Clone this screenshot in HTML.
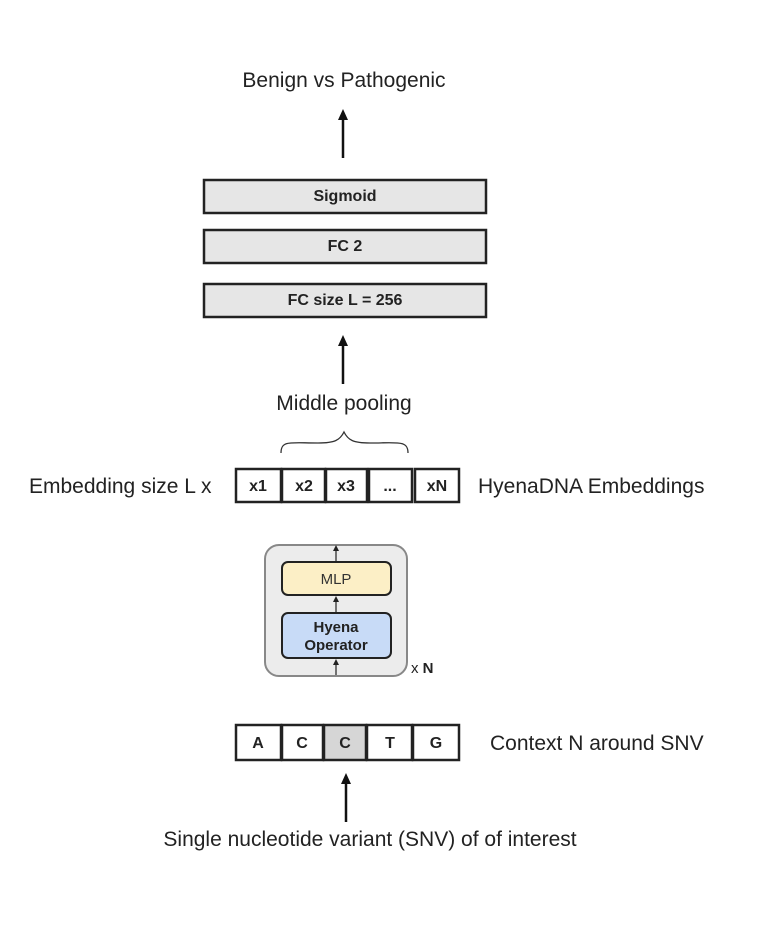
<!DOCTYPE html>
<html><head><style>body{margin:0;background:#fff}</style></head><body>
<svg width="763" height="920" xmlns="http://www.w3.org/2000/svg" font-family="Liberation Sans, Arial, sans-serif">
<defs><marker id="a" markerUnits="userSpaceOnUse" markerWidth="11" markerHeight="10" refX="2" refY="5" orient="auto"><path d="M0,0 L11,5 L0,10 z" fill="#111"/></marker>
<marker id="s" markerUnits="userSpaceOnUse" markerWidth="6" markerHeight="6" refX="1" refY="3" orient="auto"><path d="M0,0 L6,3 L0,6 z" fill="#222"/></marker></defs>
<text x="344" y="87" font-size="21" text-anchor="middle" fill="#222">Benign vs Pathogenic</text>
<line x1="343" y1="158" x2="343" y2="118" stroke="#111" stroke-width="2.5" marker-end="url(#a)"/>
<g stroke="#222" stroke-width="2.5" fill="#e6e6e6">
<rect x="204" y="180" width="282" height="33"/>
<rect x="204" y="230" width="282" height="33"/>
<rect x="204" y="284" width="282" height="33"/>
</g>
<g font-size="16" font-weight="bold" text-anchor="middle" fill="#222">
<text x="345" y="201">Sigmoid</text><text x="345" y="251">FC 2</text><text x="345" y="305">FC size L = 256</text></g>
<line x1="343" y1="384" x2="343" y2="344" stroke="#111" stroke-width="2.5" marker-end="url(#a)"/>
<text x="344" y="410" font-size="21" text-anchor="middle" fill="#222">Middle pooling</text>
<path d="M281,453 C281,440 290,443 318,443 C335,443 340,440 344,432 C348,440 353,443 370,443 C398,443 408,440 408,453" fill="none" stroke="#333" stroke-width="1.3"/>
<text x="29" y="493" font-size="21" fill="#222">Embedding size L  x</text>
<g stroke="#222" stroke-width="2.5" fill="#fff">
<rect x="236" y="469" width="45" height="33"/><rect x="282" y="469" width="43" height="33"/><rect x="326" y="469" width="41" height="33"/><rect x="369" y="469" width="43" height="33"/><rect x="415" y="469" width="44" height="33"/></g>
<g font-size="16" font-weight="bold" text-anchor="middle" fill="#222">
<text x="258" y="491">x1</text><text x="304" y="491">x2</text><text x="346" y="491">x3</text><text x="390" y="491">...</text><text x="437" y="491">xN</text></g>
<text x="478" y="493" font-size="21" fill="#222">HyenaDNA Embeddings</text>
<rect x="265" y="545" width="142" height="131" rx="14" fill="#ececec" stroke="#888" stroke-width="2"/>
<rect x="282" y="562" width="109" height="33" rx="6" fill="#fcefc6" stroke="#222" stroke-width="2"/>
<rect x="282" y="613" width="109" height="45" rx="6" fill="#c8dbf7" stroke="#222" stroke-width="2"/>
<g stroke="#222" stroke-width="1.2"><line x1="336" y1="561" x2="336" y2="550" marker-end="url(#s)"/><line x1="336" y1="612" x2="336" y2="601" marker-end="url(#s)"/><line x1="336" y1="675" x2="336" y2="664" marker-end="url(#s)"/></g>
<text x="336" y="584" font-size="15" text-anchor="middle" fill="#333">MLP</text>
<text x="336" y="632" font-size="15" font-weight="bold" text-anchor="middle" fill="#222">Hyena</text>
<text x="336" y="650" font-size="15" font-weight="bold" text-anchor="middle" fill="#222">Operator</text>
<text x="411" y="673" font-size="15" fill="#222">x <tspan font-weight="bold">N</tspan></text>
<g stroke="#222" stroke-width="2.5" fill="#fff">
<rect x="236" y="725" width="45" height="35"/><rect x="282" y="725" width="41" height="35"/><rect x="324" y="725" width="42" height="35" fill="#d6d6d6"/><rect x="367" y="725" width="45" height="35"/><rect x="413" y="725" width="46" height="35"/></g>
<g font-size="16" font-weight="bold" text-anchor="middle" fill="#222">
<text x="258" y="748">A</text><text x="302" y="748">C</text><text x="345" y="748">C</text><text x="390" y="748">T</text><text x="436" y="748">G</text></g>
<text x="490" y="750" font-size="21" fill="#222">Context N around SNV</text>
<line x1="346" y1="822" x2="346" y2="782" stroke="#111" stroke-width="2.5" marker-end="url(#a)"/>
<text x="370" y="846" font-size="21" text-anchor="middle" fill="#222">Single nucleotide variant (SNV) of of interest</text>
</svg>
</body></html>
